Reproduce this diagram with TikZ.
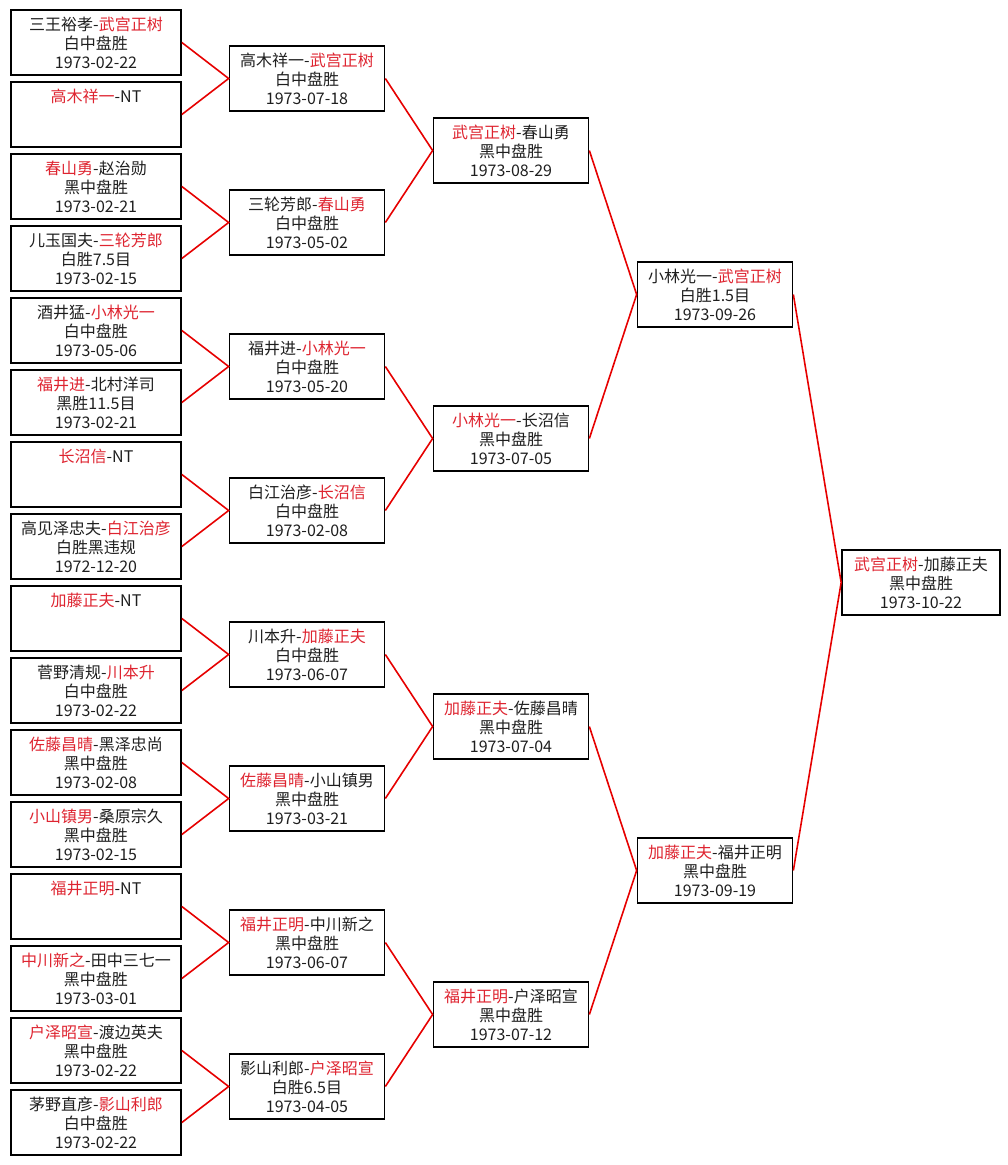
\documentclass[tikz,border=0pt]{standalone}
\usepackage{fontspec}
\setmainfont{Noto Sans CJK SC}
\usetikzlibrary{positioning}
\definecolor{winred}{RGB}{222,36,48}
\definecolor{linkred}{RGB}{230,0,0}
\definecolor{ink}{RGB}{30,30,30}
\newcommand{\wn}[1]{\textcolor{winred}{#1}}

\begin{document}
\begin{tikzpicture}[x=1pt,y=-1pt,
    game/.style={draw,line width=1.7pt,inner sep=0pt,minimum height=65pt,
        align=center,text=ink,font=\fontsize{16}{19}\selectfont},
    first/.style={game,minimum width=170pt},
    mid/.style={game,minimum width=155pt},
    link/.style={linkred,line width=1.6pt}]
\useasboundingbox (0,0) rectangle (1007,1165);
% first round
\node[first] (g1) at (96,42.5) {三王裕孝-\wn{武宫正树}\\白中盘胜\\1973-02-22};
\node[first] (g2) at (96,114.5) {\wn{高木祥一}-NT\\~\\~};
\node[first] (g3) at (96,186.5) {\wn{春山勇}-赵治勋\\黑中盘胜\\1973-02-21};
\node[first] (g4) at (96,258.5) {儿玉国夫-\wn{三轮芳郎}\\白胜7.5目\\1973-02-15};
\node[first] (g5) at (96,330.5) {酒井猛-\wn{小林光一}\\白中盘胜\\1973-05-06};
\node[first] (g6) at (96,402.5) {\wn{福井进}-北村洋司\\黑胜11.5目\\1973-02-21};
\node[first] (g7) at (96,474.5) {\wn{长沼信}-NT\\~\\~};
\node[first] (g8) at (96,546.5) {高见泽忠夫-\wn{白江治彦}\\白胜黑违规\\1972-12-20};
\node[first] (g9) at (96,618.5) {\wn{加藤正夫}-NT\\~\\~};
\node[first] (g10) at (96,690.5) {菅野清规-\wn{川本升}\\白中盘胜\\1973-02-22};
\node[first] (g11) at (96,762.5) {\wn{佐藤昌晴}-黑泽忠尚\\黑中盘胜\\1973-02-08};
\node[first] (g12) at (96,834.5) {\wn{小山镇男}-桑原宗久\\黑中盘胜\\1973-02-15};
\node[first] (g13) at (96,906.5) {\wn{福井正明}-NT\\~\\~};
\node[first] (g14) at (96,978.5) {\wn{中川新之}-田中三七一\\黑中盘胜\\1973-03-01};
\node[first] (g15) at (96,1050.5) {\wn{户泽昭宣}-渡边英夫\\黑中盘胜\\1973-02-22};
\node[first] (g16) at (96,1122.5) {茅野直彦-\wn{影山利郎}\\白中盘胜\\1973-02-22};
% second round
\node[mid] (q1) at (307,78.5) {高木祥一-\wn{武宫正树}\\白中盘胜\\1973-07-18};
\node[mid] (q2) at (307,222.5) {三轮芳郎-\wn{春山勇}\\白中盘胜\\1973-05-02};
\node[mid] (q3) at (307,366.5) {福井进-\wn{小林光一}\\白中盘胜\\1973-05-20};
\node[mid] (q4) at (307,510.5) {白江治彦-\wn{长沼信}\\白中盘胜\\1973-02-08};
\node[mid] (q5) at (307,654.5) {川本升-\wn{加藤正夫}\\白中盘胜\\1973-06-07};
\node[mid] (q6) at (307,798.5) {\wn{佐藤昌晴}-小山镇男\\黑中盘胜\\1973-03-21};
\node[mid] (q7) at (307,942.5) {\wn{福井正明}-中川新之\\黑中盘胜\\1973-06-07};
\node[mid] (q8) at (307,1086.5) {影山利郎-\wn{户泽昭宣}\\白胜6.5目\\1973-04-05};
% third round
\node[mid] (s1) at (511,150.5) {\wn{武宫正树}-春山勇\\黑中盘胜\\1973-08-29};
\node[mid] (s2) at (511,438.5) {\wn{小林光一}-长沼信\\黑中盘胜\\1973-07-05};
\node[mid] (s3) at (511,726.5) {\wn{加藤正夫}-佐藤昌晴\\黑中盘胜\\1973-07-04};
\node[mid] (s4) at (511,1014.5) {\wn{福井正明}-户泽昭宣\\黑中盘胜\\1973-07-12};
% semi finals and final
\node[mid] (f1) at (715,294.5) {小林光一-\wn{武宫正树}\\白胜1.5目\\1973-09-26};
\node[mid] (f2) at (715,870.5) {\wn{加藤正夫}-福井正明\\黑中盘胜\\1973-09-19};
\node[game,minimum width=158pt] (w) at (921,582.5) {\wn{武宫正树}-加藤正夫\\黑中盘胜\\1973-10-22};
% red links
\draw[link] (g1.east) -- (q1.west) -- (g2.east);
\draw[link] (g3.east) -- (q2.west) -- (g4.east);
\draw[link] (g5.east) -- (q3.west) -- (g6.east);
\draw[link] (g7.east) -- (q4.west) -- (g8.east);
\draw[link] (g9.east) -- (q5.west) -- (g10.east);
\draw[link] (g11.east) -- (q6.west) -- (g12.east);
\draw[link] (g13.east) -- (q7.west) -- (g14.east);
\draw[link] (g15.east) -- (q8.west) -- (g16.east);
\draw[link] (q1.east) -- (s1.west) -- (q2.east);
\draw[link] (q3.east) -- (s2.west) -- (q4.east);
\draw[link] (q5.east) -- (s3.west) -- (q6.east);
\draw[link] (q7.east) -- (s4.west) -- (q8.east);
\draw[link] (s1.east) -- (f1.west) -- (s2.east);
\draw[link] (s3.east) -- (f2.west) -- (s4.east);
\draw[link] (f1.east) -- (w.west) -- (f2.east);
\end{tikzpicture}
\end{document}
